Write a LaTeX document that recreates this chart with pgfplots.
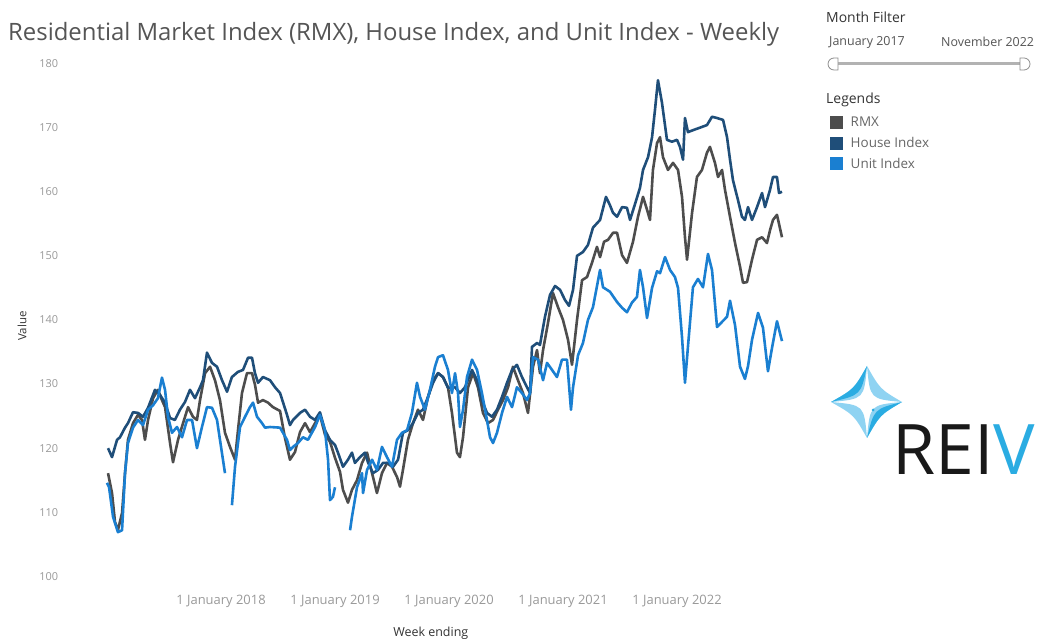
\documentclass[border=0pt]{standalone}
\usepackage{fontspec}
\setmainfont{Open Sans}
\usepackage{pgfplots}
\pgfplotsset{compat=1.18}
\definecolor{rmx}{HTML}{4D4D4D}
\definecolor{house}{HTML}{1F4E79}
\definecolor{unit}{HTML}{1A7FD1}
\definecolor{titlegray}{HTML}{555555}
\definecolor{legendgray}{HTML}{666666}
\definecolor{tickgray}{HTML}{999999}
\definecolor{labelgray}{HTML}{333333}
\definecolor{reivblue}{HTML}{2AACE2}
\definecolor{reivlight}{HTML}{8FD3F2}
\begin{document}
\begin{tikzpicture}
\useasboundingbox (0bp,0bp) rectangle (1037bp,642bp);
\begin{axis}[
  at={(95.6bp,52.8bp)}, anchor=south west,
  scale only axis, width=695.4bp, height=538.5bp,
  xmin=2016.9, xmax=2023.0, ymin=98, ymax=182,
  axis line style={draw=none}, tick style={draw=none},
  xtick={2018,2019,2020,2021,2022},
  xticklabels={1 January 2018,1 January 2019,1 January 2020,1 January 2021,1 January 2022},
  ytick={100,110,...,180},
  /pgf/number format/assume math mode=true,
  yticklabel style={font=\fontsize{11}{13}\selectfont, text=tickgray, xshift=-34bp},
  xticklabel style={font=\fontsize{13}{15}\selectfont, text=tickgray, yshift=-2bp},
  xlabel={Week ending}, ylabel={Value},
  xlabel style={at={(axis description cs:0.482,-0.0813)}, anchor=center, font=\fontsize{12.5}{14}\selectfont, text=labelgray},
  ylabel style={at={(axis description cs:-0.1058,0.4888)}, anchor=center, rotate=0, font=\fontsize{11.5}{13}\selectfont, text=labelgray},
  title={Residential Market Index (RMX), House Index, and Unit Index - Weekly},
  title style={at={(axis description cs:-0.126,1.0347)}, anchor=west, font=\fontsize{24}{27}\selectfont, text=titlegray, inner sep=0pt, yshift=-8bp},
  unbounded coords=jump,
  every axis plot/.append style={line width=2.6bp, line join=round, mark=none},
  legend image code/.code={\fill[draw=none] (0bp,-6.5bp) rectangle (13bp,6.5bp);},
  legend cell align=left,
  legend style={at={(axis description cs:1.0561,0.8795)}, anchor=north west, draw=none, fill=none, inner sep=0pt,
    font=\fontsize{13.5}{15}\selectfont, text=legendgray, row sep=6bp, nodes={inner sep=1.5bp},
    /tikz/every odd column/.style={column sep=6bp}},
]
\addplot[color=rmx] coordinates {
(2017.009,116.1)(2017.044,113.0)(2017.070,108.5)(2017.096,107.2)(2017.132,109.9)(2017.158,116.1)
(2017.184,121.3)(2017.228,123.9)(2017.272,125.2)(2017.307,124.4)(2017.333,121.3)(2017.360,124.4)
(2017.404,127.8)(2017.447,129.1)(2017.482,127.5)(2017.509,126.4)(2017.553,120.8)(2017.579,117.8)
(2017.623,121.3)(2017.667,123.9)(2017.711,126.4)(2017.754,124.9)(2017.789,124.4)(2017.816,127.5)
(2017.860,131.7)(2017.904,132.7)(2017.947,130.6)(2017.991,127.5)(2018.035,122.4)(2018.079,120.2)
(2018.123,118.2)(2018.149,122.8)(2018.184,128.6)(2018.228,131.7)(2018.272,131.7)(2018.298,129.9)
(2018.325,127.1)(2018.368,127.5)(2018.412,127.1)(2018.456,126.4)(2018.518,125.8)(2018.561,121.6)
(2018.605,118.2)(2018.649,119.4)(2018.693,122.5)(2018.737,123.9)(2018.781,122.5)(2018.825,123.9)
(2018.868,125.2)(2018.912,122.1)(2018.956,121.0)(2019.000,118.5)(2019.044,116.3)(2019.070,113.5)
(2019.114,111.5)(2019.149,113.5)(2019.193,115.0)(2019.237,117.7)(2019.281,119.3)(2019.325,116.1)
(2019.368,113.0)(2019.412,116.1)(2019.456,117.7)(2019.500,117.1)(2019.544,115.5)(2019.570,114.0)
(2019.596,116.6)(2019.640,121.3)(2019.684,123.9)(2019.728,126.0)(2019.772,124.4)(2019.816,128.0)
(2019.860,130.6)(2019.904,131.7)(2019.947,131.1)(2019.991,129.5)(2020.026,125.5)(2020.070,119.3)
(2020.096,118.6)(2020.123,121.7)(2020.167,129.5)(2020.211,131.7)(2020.254,129.5)(2020.298,125.5)
(2020.342,123.9)(2020.386,124.4)(2020.430,126.0)(2020.474,127.5)(2020.518,129.5)(2020.561,132.7)
(2020.605,130.6)(2020.649,128.6)(2020.693,125.5)(2020.737,132.7)(2020.772,135.3)(2020.798,131.7)
(2020.825,135.3)(2020.868,139.5)(2020.912,144.2)(2020.956,142.0)(2021.000,140.0)(2021.044,136.9)
(2021.079,133.0)(2021.123,140.0)(2021.167,146.2)(2021.211,146.7)(2021.254,148.9)(2021.298,151.4)
(2021.325,149.8)(2021.360,152.2)(2021.395,152.5)(2021.439,153.6)(2021.474,153.6)(2021.518,150.1)
(2021.561,148.9)(2021.614,152.2)(2021.658,156.1)(2021.702,159.2)(2021.737,157.2)(2021.763,155.6)
(2021.789,163.4)(2021.825,167.6)(2021.851,168.5)(2021.877,165.4)(2021.921,163.4)(2021.965,164.5)
(2022.009,163.4)(2022.044,159.2)(2022.070,152.9)(2022.088,149.4)(2022.132,156.7)(2022.175,162.3)
(2022.219,163.4)(2022.263,166.1)(2022.289,167.0)(2022.333,164.5)(2022.360,162.3)(2022.395,163.4)
(2022.421,160.3)(2022.465,156.1)(2022.509,152.0)(2022.553,148.3)(2022.579,145.8)(2022.614,145.9)
(2022.658,149.4)(2022.702,152.5)(2022.746,152.9)(2022.789,152.0)(2022.816,154.0)(2022.842,155.6)
(2022.877,156.4)(2022.921,152.9)
};
\addlegendentry{RMX}
\addplot[color=house] coordinates {
(2017.009,120.0)(2017.044,118.6)(2017.088,121.3)(2017.114,121.7)(2017.158,123.2)(2017.184,123.9)
(2017.228,125.6)(2017.272,125.5)(2017.316,124.9)(2017.360,126.3)(2017.421,129.1)(2017.465,128.3)
(2017.509,127.1)(2017.553,124.7)(2017.596,124.4)(2017.640,126.0)(2017.684,127.2)(2017.728,129.1)
(2017.772,127.8)(2017.816,129.5)(2017.842,130.6)(2017.877,134.9)(2017.921,133.3)(2017.965,132.7)
(2018.009,130.6)(2018.053,128.8)(2018.096,131.1)(2018.149,131.9)(2018.193,132.2)(2018.237,134.1)
(2018.272,134.1)(2018.298,131.7)(2018.325,130.2)(2018.368,131.1)(2018.430,130.6)(2018.474,129.5)
(2018.518,128.6)(2018.579,125.2)(2018.605,123.6)(2018.632,124.4)(2018.693,125.5)(2018.737,126.0)
(2018.781,124.9)(2018.825,124.4)(2018.868,125.6)(2018.912,122.8)(2018.956,121.3)(2019.000,120.5)
(2019.026,119.3)(2019.070,117.1)(2019.114,118.2)(2019.149,119.3)(2019.175,117.7)(2019.219,118.6)
(2019.263,119.3)(2019.289,117.8)(2019.333,116.1)(2019.377,116.6)(2019.421,117.7)(2019.465,117.7)
(2019.509,117.1)(2019.553,118.2)(2019.596,122.4)(2019.640,122.8)(2019.684,123.9)(2019.728,125.5)
(2019.772,126.0)(2019.816,128.0)(2019.860,130.2)(2019.904,131.7)(2019.947,131.1)(2019.991,129.4)
(2020.053,129.5)(2020.096,128.6)(2020.140,129.5)(2020.202,132.2)(2020.246,130.6)(2020.289,127.5)
(2020.333,125.5)(2020.377,124.9)(2020.421,126.0)(2020.465,128.0)(2020.509,130.2)(2020.553,132.2)
(2020.596,133.0)(2020.640,131.1)(2020.684,129.5)(2020.711,128.6)(2020.728,135.8)(2020.772,136.4)
(2020.798,136.1)(2020.842,140.5)(2020.886,143.9)(2020.930,145.3)(2020.974,144.7)(2021.018,143.1)
(2021.053,142.2)(2021.088,144.7)(2021.123,150.0)(2021.175,150.6)(2021.219,151.7)(2021.263,154.4)
(2021.325,155.6)(2021.377,159.2)(2021.412,157.9)(2021.439,156.7)(2021.474,156.1)(2021.518,157.6)
(2021.561,157.5)(2021.588,155.6)(2021.632,158.1)(2021.675,160.6)(2021.702,163.4)(2021.746,165.4)
(2021.781,168.5)(2021.807,172.8)(2021.833,177.4)(2021.868,173.9)(2021.912,168.1)(2021.956,167.8)
(2022.000,168.1)(2022.026,167.0)(2022.053,165.0)(2022.070,171.5)(2022.096,169.3)(2022.140,169.6)
(2022.202,170.0)(2022.263,170.4)(2022.307,171.7)(2022.351,171.5)(2022.404,171.2)(2022.439,168.5)
(2022.465,165.0)(2022.491,161.8)(2022.535,158.7)(2022.570,156.1)(2022.596,155.6)(2022.623,157.6)
(2022.658,155.6)(2022.702,157.6)(2022.746,159.8)(2022.772,157.6)(2022.816,160.3)(2022.842,162.3)
(2022.877,162.3)(2022.895,159.8)(2022.921,160.0)
};
\addlegendentry{House Index}
\addplot[color=unit] coordinates {
(2017.000,114.6)(2017.018,113.9)(2017.053,109.3)(2017.096,106.9)(2017.132,107.2)(2017.158,116.1)
(2017.184,120.8)(2017.228,123.2)(2017.272,124.4)(2017.316,123.6)(2017.360,126.0)(2017.404,126.7)
(2017.447,127.8)(2017.482,131.0)(2017.509,129.1)(2017.535,124.9)(2017.570,122.4)(2017.614,123.3)
(2017.658,121.7)(2017.702,124.4)(2017.746,124.4)(2017.789,120.0)(2017.833,123.3)(2017.877,126.4)
(2017.921,126.3)(2017.965,124.4)(2017.991,121.3)(2018.035,116.1)(2018.065,nan)
(2018.096,111.1)(2018.123,117.1)(2018.167,123.3)(2018.211,124.9)(2018.254,126.4)(2018.281,127.1)
(2018.316,124.9)(2018.360,123.9)(2018.386,123.2)(2018.430,123.3)(2018.518,123.2)(2018.579,121.3)
(2018.605,119.7)(2018.632,120.2)(2018.675,120.8)(2018.719,121.7)(2018.763,121.3)(2018.825,123.3)
(2018.868,125.2)(2018.912,122.8)(2018.939,118.2)(2018.956,111.9)(2018.982,112.4)(2019.000,113.9)
(2019.060,nan)
(2019.132,107.2)(2019.149,109.3)(2019.193,113.9)(2019.237,116.1)(2019.246,113.0)(2019.281,116.6)
(2019.325,118.2)(2019.368,116.6)(2019.412,120.2)(2019.456,118.6)(2019.500,117.1)(2019.544,121.3)
(2019.588,122.4)(2019.632,122.8)(2019.675,125.5)(2019.719,130.2)(2019.746,128.0)(2019.789,126.0)
(2019.833,129.1)(2019.877,132.7)(2019.904,134.2)(2019.947,134.5)(2019.991,132.2)(2020.026,128.6)
(2020.053,131.7)(2020.079,128.6)(2020.096,123.3)(2020.123,126.0)(2020.158,131.1)(2020.202,133.8)
(2020.246,132.2)(2020.289,128.6)(2020.333,124.4)(2020.360,121.7)(2020.386,120.8)(2020.421,122.4)
(2020.465,125.5)(2020.509,128.0)(2020.553,126.4)(2020.596,129.5)(2020.640,128.6)(2020.684,127.5)
(2020.711,128.6)(2020.737,134.2)(2020.781,133.8)(2020.825,130.6)(2020.860,133.3)(2020.904,132.2)
(2020.947,131.1)(2020.991,133.8)(2021.035,133.8)(2021.070,126.0)(2021.088,129.5)(2021.132,134.5)
(2021.175,136.4)(2021.219,140.0)(2021.263,142.0)(2021.325,147.8)(2021.351,145.1)(2021.412,144.4)
(2021.474,142.8)(2021.518,141.9)(2021.561,141.2)(2021.605,142.7)(2021.649,143.6)(2021.675,147.8)
(2021.702,145.1)(2021.737,140.3)(2021.781,145.0)(2021.825,147.6)(2021.851,147.3)(2021.895,149.8)
(2021.939,147.8)(2021.982,146.7)(2022.009,145.0)(2022.044,137.3)(2022.070,130.2)(2022.096,135.8)
(2022.140,145.1)(2022.184,146.4)(2022.228,145.1)(2022.272,150.3)(2022.307,147.8)(2022.351,138.9)
(2022.395,139.7)(2022.439,140.5)(2022.465,143.0)(2022.509,139.2)(2022.553,132.7)(2022.596,130.8)
(2022.623,132.8)(2022.658,136.9)(2022.711,141.1)(2022.754,138.8)(2022.798,132.0)(2022.833,135.6)
(2022.877,139.8)(2022.921,136.7)
};
\addlegendentry{Unit Index}
\end{axis}
% right panel
\node[anchor=west, inner sep=0pt, font=\fontsize{14}{16}\selectfont, text=labelgray] at (826bp,625bp) {Month Filter};
\node[anchor=west, inner sep=0pt, font=\fontsize{12.5}{14}\selectfont, text=titlegray] at (829bp,600bp) {January 2017};
\node[anchor=west, inner sep=0pt, font=\fontsize{12.5}{14}\selectfont, text=titlegray] at (941bp,600bp) {November 2022};
\draw[color=black!30, line width=3bp] (838bp,578bp) -- (1020bp,578bp);
\draw[color=black!45, fill=white, line width=0.8bp] (838bp,584bp) -- (834bp,584bp) arc[start angle=90, end angle=270, radius=6bp] -- (838bp,572bp) -- cycle;
\draw[color=black!45, fill=white, line width=0.8bp] (1020bp,584bp) -- (1024bp,584bp) arc[start angle=90, end angle=-90, radius=6bp] -- (1020bp,572bp) -- cycle;
\node[anchor=west, inner sep=0pt, font=\fontsize{14}{16}\selectfont, text=labelgray] at (826bp,542bp) {Legends};
% logo
\fill[reivlight, even odd rule]
 (867bp,276bp) .. controls (880bp,253bp) .. (902bp,240bp) .. controls (880bp,227bp) .. (867bp,204bp) .. controls (854bp,227bp) .. (831bp,240bp) .. controls (854bp,253bp) .. (867bp,276bp) -- cycle
 (867bp,276bp) .. controls (870bp,243bp) .. (902bp,240bp) .. controls (870bp,237bp) .. (867bp,204bp) .. controls (864bp,237bp) .. (831bp,240bp) .. controls (864bp,243bp) .. (867bp,276bp) -- cycle;
\fill[reivblue]
 (867bp,276bp) .. controls (854bp,253bp) .. (831bp,240bp) .. controls (861bp,247bp) .. (867bp,276bp) -- cycle;
\fill[reivblue]
 (902bp,240bp) .. controls (880bp,227bp) .. (867bp,204bp) .. controls (874bp,233bp) .. (902bp,240bp) -- cycle;
\fill[reivblue] (873bp,232bp) circle[radius=1.5bp];
\node[anchor=base west, inner sep=0pt, font=\fontsize{70}{70}\selectfont, text=black!90] at (892bp,167bp) {REI\textcolor{reivblue}{V}};
\end{tikzpicture}
\end{document}
